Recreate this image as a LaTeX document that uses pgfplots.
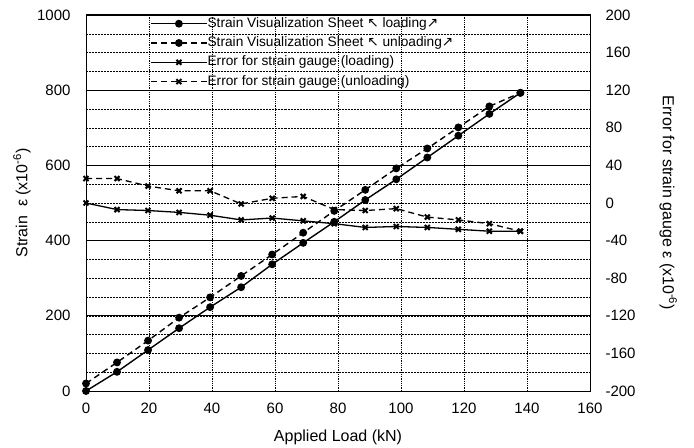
\documentclass[border=0pt]{standalone}
\usepackage{fontspec}
\setmainfont{Liberation Sans}
\newfontfamily\symfont{DejaVu Sans}
\usepackage{pgfplots}
\pgfplotsset{compat=1.18}
\begin{document}
\begin{tikzpicture}
\useasboundingbox (0,0) rectangle (694bp,448bp);
\pgfplotsset{
  base/.style={
    at={(86bp,57bp)}, anchor=south west,
    scale only axis, width=504bp, height=376bp,
    xmin=0, xmax=160,
    major tick length=0pt, minor tick length=0pt,
    /pgf/number format/assume math mode=true,
    /pgf/number format/1000 sep={},
    tick label style={font=\fontsize{15bp}{16bp}\selectfont},
    label style={font=\fontsize{16bp}{18bp}\selectfont},
  },
}
\begin{axis}[base,
  ymin=0, ymax=1000,
  xtick={0,20,...,160},
  ytick={0,200,...,1000},
  minor ytick={50,100,...,950},
  xmajorgrids, ymajorgrids, yminorgrids,
  major grid style={black, line width=0.7bp},
  minor grid style={black, line width=0.5bp, densely dotted},
  x grid style={black, line width=0.8bp, densely dotted},
  axis line style={black, line width=1bp},
  xticklabel style={yshift=-9bp},
  yticklabel style={xshift=-12bp},
  xlabel={Applied Load (kN)},
  xlabel style={at={(axis description cs:0.5,-0.122)}, anchor=center},
  ylabel={Strain \ ε (x10\textsuperscript{-6})},
  ylabel style={at={(axis description cs:-0.127,0.5)}, anchor=center, rotate=0},
  legend style={at={(axis description cs:0.127,1)}, anchor=north west, yshift=-2bp,
    draw=none, fill=none, inner sep=0pt,
    font=\fontsize{13.7bp}{15bp}\selectfont,
    nodes={inner sep=0pt, text height=10bp, text depth=3bp},
    row sep=6.3bp},
  legend cell align=left,
  legend image code/.code={\draw[mark repeat=2,mark phase=2,#1] plot coordinates {(0bp,0bp) (28bp,0bp) (56bp,0bp)};},
  /tikz/every even column/.append style={column sep=4bp},
]
\addplot[black, line width=1.4bp, mark=*, mark size=3.2bp] coordinates {
(0,0) (9.85,51) (19.7,109) (29.55,167) (39.4,223) (49.25,276) (59.1,337) (68.95,394) (78.8,450) (88.65,508) (98.5,563) (108.35,621) (118.2,679) (128.05,737) (137.9,793)};
\addlegendentry{Strain Visualization Sheet {\symfont ↖} loading{\symfont ↗}}
\addplot[black, line width=1.4bp, dash pattern=on 6bp off 4bp, mark=*, mark size=3.2bp, mark options={solid}] coordinates {
(0,20) (9.85,76) (19.7,134) (29.55,195) (39.4,249) (49.25,306) (59.1,363) (68.95,421) (78.8,479) (88.65,535) (98.5,592) (108.35,645) (118.2,701) (128.05,757) (137.9,793)};
\addlegendentry{Strain Visualization Sheet {\symfont ↖} unloading{\symfont ↗}}
\addlegendimage{black, line width=1.3bp, mark=x, mark size=3.5bp, mark options={line width=2bp}}
\addlegendentry{Error for strain gauge (loading)}
\addlegendimage{black, line width=1.3bp, dash pattern=on 6bp off 4bp, mark=x, mark size=3.5bp, mark options={solid, line width=2bp}}
\addlegendentry{Error for strain gauge (unloading)}
\end{axis}
\begin{axis}[base,
  ymin=-200, ymax=200,
  ytick={-200,-160,...,200},
  axis x line=none,
  axis y line*=right,
  y axis line style={black, line width=1bp},
  yticklabel style={xshift=12bp},
  ylabel={Error for strain gauge ε (x10\textsuperscript{-6})},
  ylabel style={at={(axis description cs:1.155,0.5)}, anchor=center, rotate=180},
]
\addplot[black, line width=1.3bp, mark=x, mark size=3.5bp, mark options={line width=2bp}] coordinates {
(0,0) (9.85,-7) (19.7,-8) (29.55,-10) (39.4,-13) (49.25,-18) (59.1,-16) (68.95,-19) (78.8,-22) (88.65,-26) (98.5,-25) (108.35,-26) (118.2,-28) (128.05,-30) (137.9,-30)};
\addplot[black, line width=1.3bp, dash pattern=on 6bp off 4bp, mark=x, mark size=3.5bp, mark options={solid, line width=2bp}] coordinates {
(0,26) (9.85,26) (19.7,18) (29.55,13) (39.4,13) (49.25,-1) (59.1,5) (68.95,7) (78.8,-7) (88.65,-8) (98.5,-6) (108.35,-15) (118.2,-18) (128.05,-22) (137.9,-30)};
\end{axis}
\end{tikzpicture}
\end{document}
